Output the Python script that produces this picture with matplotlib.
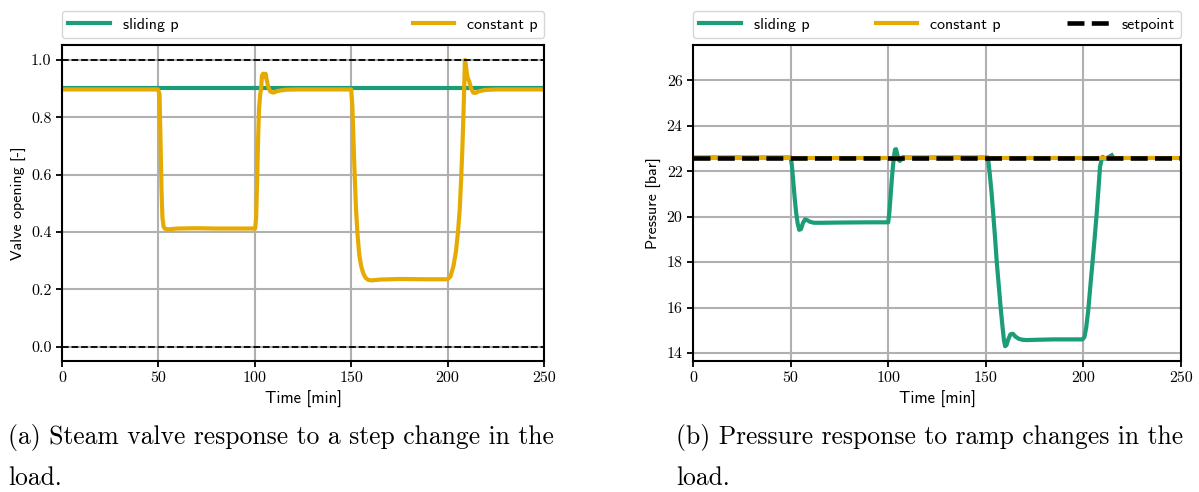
import matplotlib
matplotlib.use("Agg")
import matplotlib.pyplot as plt

plt.rcParams["axes.formatter.use_mathtext"] = True

GREEN = "#1b9e77"
YELLOW = "#e6ab02"
SERIF = "cmr10"
SANS = "cmss10"

# ---- (a) valve opening ----
t_slide_a = [0, 250]
valve_slide = [0.902, 0.902]

t_const_a = [0, 49.8, 50.6, 51.1, 51.6, 52.1, 52.7, 53.5, 55, 60, 70, 80, 90, 100.2,
             100.7, 101.2, 101.7, 102.2, 102.8, 103.3, 103.7, 104.3, 105.0, 105.6,
             106.2, 107.0, 108.0, 109.5, 112, 116, 122, 150.0,
             150.6, 151.2, 151.8, 152.5, 153.3, 154.2, 155.2, 156.3, 157.5, 158.8,
             160.5, 165, 175, 190, 200.0,
             201.5, 203.0, 204.3, 205.4, 206.3, 207.0, 207.6, 208.1, 208.6, 209.0,
             209.5, 210.3, 211.2, 212.2, 213.3, 214.5, 216, 219, 225, 235, 250]
valve_const = [0.897, 0.897, 0.88, 0.72, 0.55, 0.45, 0.418, 0.411, 0.409, 0.412, 0.413,
               0.412, 0.412, 0.412,
               0.45, 0.58, 0.72, 0.83, 0.88, 0.90, 0.945, 0.952, 0.94, 0.952,
               0.93, 0.905, 0.89, 0.886, 0.892, 0.896, 0.897, 0.897,
               0.84, 0.72, 0.60, 0.48, 0.39, 0.32, 0.28, 0.255, 0.24, 0.233,
               0.231, 0.234, 0.236, 0.235, 0.235,
               0.245, 0.28, 0.33, 0.40, 0.48, 0.58, 0.68, 0.78, 0.90, 1.0,
               0.98, 0.94, 0.925, 0.90, 0.886, 0.885, 0.89, 0.895, 0.897, 0.897, 0.897]

# ---- (b) pressure ----
t_slide_b = [0, 50.0, 50.6, 51.3, 52.0, 52.8, 53.6, 54.4, 55.3, 56.3, 57.4, 58.6,
             60, 62, 66, 75, 90, 100.0,
             100.6, 101.2, 101.8, 102.4, 103.0, 103.5, 104.0, 104.6, 105.3, 106.0,
             106.8, 107.6, 109, 115, 130, 150.0,
             151.1, 152.0, 153.0, 153.9, 154.8, 155.6, 156.6, 157.6, 158.5, 159.3,
             159.9, 160.6, 161.5, 162.6, 163.8, 165.2, 167, 169, 171, 175, 185, 199.5,
             200.5, 201.4, 202.5, 203.5, 204.6, 205.7, 206.8, 207.7, 208.5, 209.3,
             209.9, 211, 212.5, 214.5]
p_slide = [22.6, 22.6, 22.3, 21.6, 20.9, 20.2, 19.7, 19.42, 19.45, 19.72, 19.88, 19.84,
           19.77, 19.73, 19.73, 19.74, 19.75, 19.75,
           20.2, 20.9, 21.6, 22.2, 22.7, 22.95, 22.97, 22.75, 22.5, 22.45,
           22.55, 22.62, 22.6, 22.6, 22.6, 22.6,
           22.6, 21.9, 21.0, 20.0, 19.0, 18.0, 17.0, 16.0, 15.2, 14.55,
           14.3, 14.35, 14.6, 14.82, 14.85, 14.72, 14.62, 14.58, 14.57, 14.58, 14.6, 14.6,
           14.7, 15.1, 15.9, 16.9, 17.94, 19.0, 20.14, 21.2, 22.19, 22.5,
           22.63, 22.55, 22.6, 22.7]

t_const_b = [0, 250]
p_const = [22.6, 22.6]

t_set = [0, 250]
p_set = [22.6, 22.6]

x_ticks = [0, 50, 100, 150, 200, 250]
y_ticks_a = [0.0, 0.2, 0.4, 0.6, 0.8, 1.0]
y_ticks_b = [14, 16, 18, 20, 22, 24, 26]
bounds_a = [0.0, 1.0]

fig = plt.figure(figsize=(11.99, 4.92), dpi=100)
ax1 = fig.add_axes([0.0517, 0.2663, 0.402, 0.6422])
ax2 = fig.add_axes([0.578, 0.2663, 0.407, 0.6422])

lw = 3.0
ax1.plot(t_slide_a, valve_slide, color=GREEN, lw=lw, label="sliding p")
ax1.plot(t_const_a, valve_const, color=YELLOW, lw=lw, label="constant p")
for b in bounds_a:
    ax1.axhline(b, color="black", ls="--", lw=1.3)
ax1.set_ylim(-0.05, 1.052)
ax1.set_ylabel("Valve opening [-]", fontfamily=SANS, fontsize=11.5)

ax2.plot(t_slide_b, p_slide, color=GREEN, lw=lw, label="sliding p")
ax2.plot(t_const_b, p_const, color=YELLOW, lw=lw, label="constant p")
ax2.plot(t_set, p_set, color="black", ls="--", lw=3.3, label="setpoint")
ax2.set_ylim(13.65, 27.55)
ax2.set_ylabel("Pressure [bar]", fontfamily=SANS, fontsize=11.5)

for ax, yt, nc in ((ax1, y_ticks_a, 2), (ax2, y_ticks_b, 3)):
    ax.set_xlim(0, 250)
    ax.set_xticks(x_ticks)
    ax.set_xticklabels([str(v) for v in x_ticks], fontfamily=SERIF, fontsize=11.5)
    ax.set_yticks(yt)
    ax.set_yticklabels([f"{v:.1f}" if isinstance(v, float) else str(v) for v in yt],
                       fontfamily=SERIF, fontsize=11.5)
    ax.set_xlabel("Time [min]", fontfamily=SANS, fontsize=12)
    ax.grid(True, color="#b0b0b0", lw=1.5)
    ax.set_axisbelow(True)
    for s in ax.spines.values():
        s.set_linewidth(1.5)
    ax.tick_params(width=1.3, length=4)
    ax.legend(loc="lower left", bbox_to_anchor=(0, 1.022, 1, 0.1), mode="expand",
              ncol=nc, borderaxespad=0, prop={"family": SANS, "size": 11.5},
              handlelength=2.6)

cap = dict(fontfamily=SERIF, fontsize=18.4, va="center", ha="left")
fig.text(0.0067, 0.1098, "(a) Steam valve response to a step change in the", **cap)
fig.text(0.0067, 0.0285, "load.", **cap)
fig.text(0.5638, 0.1098, "(b) Pressure response to ramp changes in the", **cap)
fig.text(0.5638, 0.0285, "load.", **cap)

fig.savefig("out.png", dpi=100)
